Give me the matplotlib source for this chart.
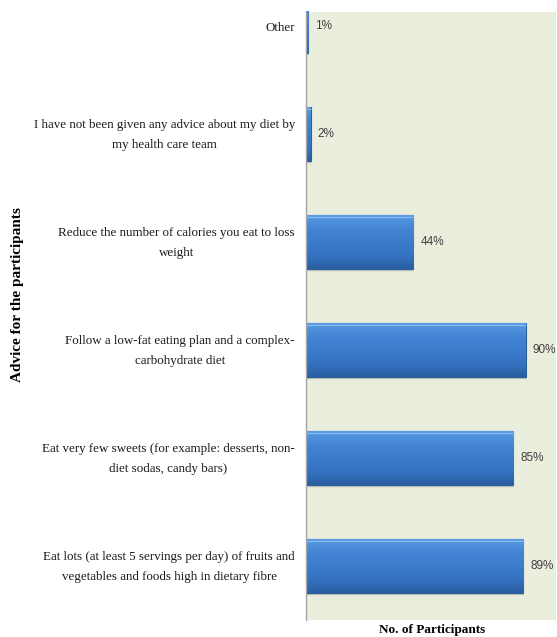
import numpy as np
import matplotlib
matplotlib.use("Agg")
import matplotlib.pyplot as plt
from matplotlib.colors import LinearSegmentedColormap
from matplotlib.transforms import ScaledTranslation

# Survey responses, bottom to top
categories = [
    "Eat lots (at least 5 servings per day) of fruits and\nvegetables and foods high in dietary fibre",
    "Eat very few sweets (for example: desserts, non-\ndiet sodas, candy bars)",
    "Follow a low-fat eating plan and a complex-\ncarbohydrate diet",
    "Reduce the number of calories you eat to loss\nweight",
    "I have not been given any advice about my diet by\nmy health care team",
    "Other",
]
percent = [89, 85, 90, 44, 2, 1]

Y_TOP = 5.13

fig = plt.figure(figsize=(5.57, 6.37), dpi=100)
ax = fig.add_axes([306 / 557, 17 / 637, 250 / 557, 608 / 637])
ax.set_facecolor("#EAEEDD")

y = np.arange(len(categories))
bars = ax.barh(y, percent, height=0.5, color="#3F80CF", edgecolor="#2D5F9C",
               linewidth=0.8, zorder=2)

# Soft vertical shading on each bar for a bevelled look (light top, dark bottom)
shade = LinearSegmentedColormap.from_list(
    "bevel", ["#2A5FA0", "#3573C1", "#3C7CCB", "#4384D4", "#5A9AE2"])
grad = np.linspace(0, 1, 64).reshape(-1, 1)
for b in bars:
    x0, y0 = b.get_x(), b.get_y()
    w, h = b.get_width(), b.get_height()
    y1 = min(y0 + h, Y_TOP)
    im = ax.imshow(grad[: max(2, int(64 * (y1 - y0) / h))], cmap=shade,
                   vmin=0, vmax=1, aspect="auto",
                   extent=[x0, x0 + w, y0, y1], origin="lower", zorder=2.5)
    im.set_clip_path(b)
    ax.plot([x0, x0 + w], [y0 + h * 0.96, y0 + h * 0.96], color="#86BBF0",
            lw=0.9, zorder=3, solid_capstyle="butt")
    ax.plot([x0, x0 + w], [y0 - 0.012, y0 - 0.012], color="#9aa3a0",
            lw=1.0, zorder=1.5, alpha=0.6, solid_capstyle="butt")

for yi, v in zip(y, percent):
    ax.annotate(f"{v}%", (v, yi), xytext=(5, 0), textcoords="offset points",
                ha="left", va="center", fontsize=8.5, color="#404040",
                family="Liberation Sans")

ax.set_xlim(0, 102.5)
ax.set_ylim(-0.5, Y_TOP)
ax.set_yticks(y)
ax.set_yticklabels(categories, family="Liberation Serif", fontsize=9.4,
                   ha="right", multialignment="center", linespacing=1.85,
                   color="#1a1a1a")
ax.tick_params(axis="y", length=0, pad=8)
# nudge two-line labels up so their block sits centred on the bar
for lbl in ax.get_yticklabels():
    if "\n" in lbl.get_text():
        lbl.set_transform(lbl.get_transform()
                          + ScaledTranslation(0, 3 / 72, fig.dpi_scale_trans))
ax.set_xticks([])
for s in ["top", "right", "bottom"]:
    ax.spines[s].set_visible(False)
ax.spines["left"].set_color("#A6A6A6")
ax.spines["left"].set_linewidth(1.0)

fig.text(432 / 557, 1 - 630 / 637, "No. of Participants", ha="center",
         va="center", family="Liberation Serif", fontweight="bold", fontsize=9.5)
fig.text(18 / 557, 1 - 295 / 637, "Advice for the participants", ha="center",
         va="center", rotation=90, family="Liberation Serif",
         fontweight="bold", fontsize=11)

fig.savefig("out.png", dpi=100)
